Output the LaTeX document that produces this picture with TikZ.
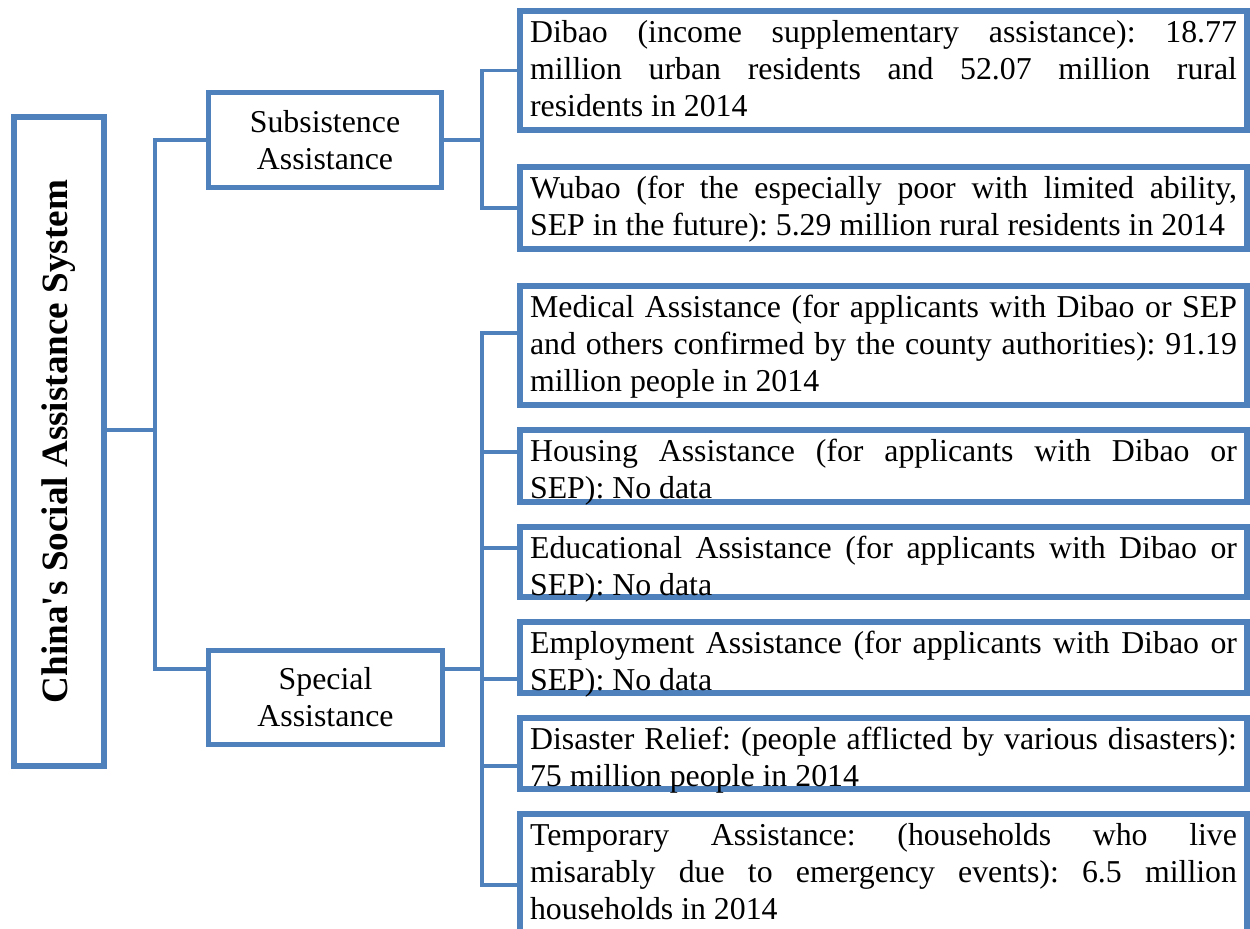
\documentclass[tikz,border=0pt]{standalone}
\usepackage{fontspec}
\setmainfont{Liberation Serif}[Ligatures=TeXOff]
\usepackage{graphicx}
\definecolor{wordblue}{HTML}{4F81BD}
\frenchspacing
% text of a right-hand box: fixed height, top aligned
\newcommand{\itemtext}[2]{\begin{minipage}[t][#1][t]{266.5pt}\strut#2\end{minipage}}

\begin{document}
\begin{tikzpicture}[
  x=0.377pt, y=-0.377pt,
  every node/.style={font=\fontsize{12}{14}\selectfont},
  box/.style={draw=wordblue, line width=2pt, outer sep=0pt},
  midbox/.style={box, minimum width=88pt, minimum height=35.6pt, align=center, inner sep=0pt},
  item/.style={box, anchor=north west, inner xsep=3.8pt, inner ysep=2pt},
  link/.style={draw=wordblue, line width=1.3pt}
]
\useasboundingbox (0,0) rectangle (1250,929);
\clip (0,0) rectangle (1250,929);

% root
\node[box, minimum width=33.9pt, minimum height=244.7pt, inner sep=0pt] (root) at (59,441.5)
  {\rotatebox{90}{\fontsize{14}{16}\selectfont\bfseries China's Social Assistance System}};

% second level
\node[midbox] (subs) at (325,140) {Subsistence\\Assistance};
\node[midbox] (spec) at (325.5,697.5) {Special\\Assistance};

% right-hand boxes
\node[item] (dibao) at (520,11) {\itemtext{40.9pt}{Dibao (income supplementary assistance): 18.77\linebreak
  million urban residents and 52.07 million rural\linebreak residents in 2014}};
\node[item] (wubao) at (520,167) {\itemtext{26.9pt}{Wubao (for the especially poor with limited ability,\linebreak
  SEP in the future): 5.29 million rural residents in 2014}};
\node[item] (med) at (520,286) {\itemtext{40.9pt}{Medical Assistance (for applicants with Dibao or SEP\linebreak
  and others confirmed by the county authorities): 91.19\linebreak million people in 2014}};
\node[item] (hous) at (520,430) {\itemtext{23.1pt}{Housing Assistance (for applicants with Dibao or\linebreak
  SEP): No data}};
\node[item] (edu) at (520,527) {\itemtext{22.4pt}{Educational Assistance (for applicants with Dibao or\linebreak
  SEP): No data}};
\node[item] (emp) at (520,622) {\itemtext{22.8pt}{Employment Assistance (for applicants with Dibao or\linebreak
  SEP): No data}};
\node[item] (dis) at (520,718) {\itemtext{22.8pt}{Disaster Relief: (people afflicted by various disasters):\linebreak
  75 million people in 2014}};
\node[item] (temp) at (520,814) {\itemtext{47pt}{Temporary Assistance: (households who live\linebreak
  misarably due to emergency events): 6.5 million\linebreak households in 2014}};

% connectors
\coordinate (bus1) at (155,0);
\coordinate (bus2) at (482,0);
\draw[link] (root.east |- 0,430) -- (bus1 |- 0,430);
\draw[link] (subs.west) -| (bus1 |- 0,669) -- (spec.west |- 0,669);
\draw[link] (subs.east) -- (bus2 |- subs.east);
\draw[link] (dibao.west) -| (bus2 |- wubao.west) -- (wubao.west);
\draw[link] (spec.east |- 0,669) -- (bus2 |- 0,669);
\draw[link] (med.west |- 0,333) -| (bus2 |- 0,885) -- (temp.west |- 0,885);
\foreach \n/\y in {hous/452, edu/548, emp/679, dis/766}
  \draw[link] (bus2 |- 0,\y) -- (\n.west |- 0,\y);
\end{tikzpicture}
\end{document}
